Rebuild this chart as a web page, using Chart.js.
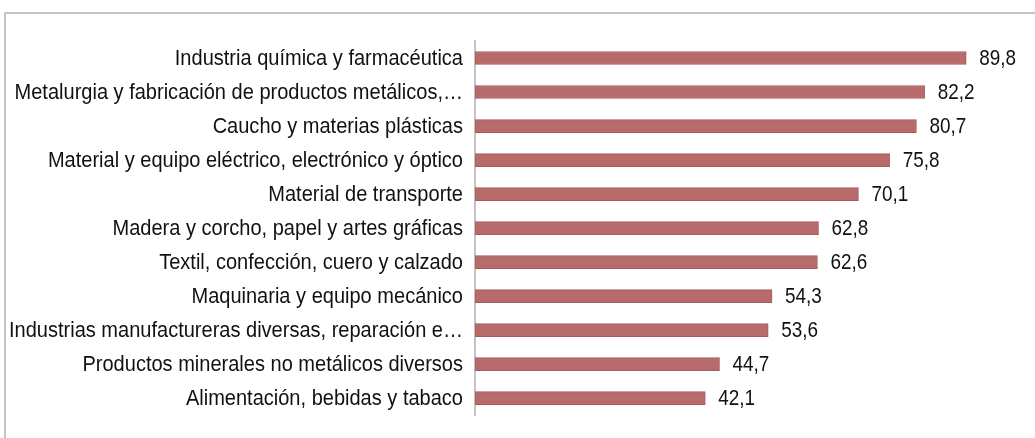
<!DOCTYPE html>
<html>
<head>
<meta charset="utf-8">
<script src="https://cdn.jsdelivr.net/npm/chart.js@4"></script>
<style>
  html, body { margin: 0; padding: 0; background: #fff; overflow: hidden; }
  #frame { position: absolute; left: 4px; top: 12px; width: 1100px; height: 500px; border: 2px solid #c4c4c4; }
  #wrap { position: absolute; left: 0; top: 0; width: 1035px; height: 438px; }
</style>
</head>
<body>
<div id="frame"></div>
<div id="wrap"><canvas id="chart" width="1035" height="438"></canvas></div>
<script>
const sectors = [
  'Industria química y farmacéutica',
  'Metalurgia y fabricación de productos metálicos,…',
  'Caucho y materias plásticas',
  'Material y equipo eléctrico, electrónico y óptico',
  'Material de transporte',
  'Madera y corcho, papel y artes gráficas',
  'Textil, confección, cuero y calzado',
  'Maquinaria y equipo mecánico',
  'Industrias manufactureras diversas, reparación e…',
  'Productos minerales no metálicos diversos',
  'Alimentación, bebidas y tabaco'
];
const values = [89.8, 82.2, 80.7, 75.8, 70.1, 62.8, 62.6, 54.3, 53.6, 44.7, 42.1];

const fontFamily = '"Liberation Sans", Arial, sans-serif';

// the original uses a condensed Arial, so text is drawn squeezed horizontally
function drawSqueezed(ctx, text, x, y, sx, align) {
  ctx.save();
  ctx.translate(x, y);
  ctx.scale(sx, 1);
  ctx.textAlign = align;
  ctx.fillText(text, 0, 0);
  ctx.restore();
}

const textLayer = {
  id: 'textLayer',
  afterDraw(chart) {
    const ctx = chart.ctx;
    const yScale = chart.scales.y;
    ctx.save();
    ctx.fillStyle = '#111';
    ctx.textBaseline = 'middle';
    // category labels
    ctx.font = '22px ' + fontFamily;
    sectors.forEach((label, i) => {
      drawSqueezed(ctx, label, yScale.right - 12, yScale.getPixelForTick(i) + 1, 0.91, 'right');
    });
    // value labels
    ctx.font = '22px ' + fontFamily;
    chart.getDatasetMeta(0).data.forEach((bar, i) => {
      drawSqueezed(ctx, values[i].toFixed(1).replace('.', ','), bar.x + 13, bar.y + 1, 0.86, 'left');
    });
    ctx.restore();
  }
};

new Chart(document.getElementById('chart'), {
  type: 'bar',
  data: {
    labels: sectors,
    datasets: [{
      data: values,
      backgroundColor: '#b86b6b',
      borderColor: '#a65c5c',
      borderWidth: 1,
      borderSkipped: false,
      barThickness: 13
    }]
  },
  options: {
    indexAxis: 'y',
    responsive: false,
    animation: false,
    layout: { padding: { top: 41, bottom: 22, right: 13, left: 0 } },
    plugins: { legend: { display: false }, tooltip: { enabled: false } },
    scales: {
      x: { display: false, min: 0, max: 100 },
      y: {
        grid: { display: false, drawTicks: false },
        border: { display: true, color: '#c4c4c4', width: 2 },
        ticks: {
          color: 'rgba(0,0,0,0)',
          padding: 12,
          autoSkip: false,
          font: { family: fontFamily, size: 18 }
        },
        afterFit(scale) { scale.width = 475; }
      }
    }
  },
  plugins: [textLayer]
});
</script>
</body>
</html>
